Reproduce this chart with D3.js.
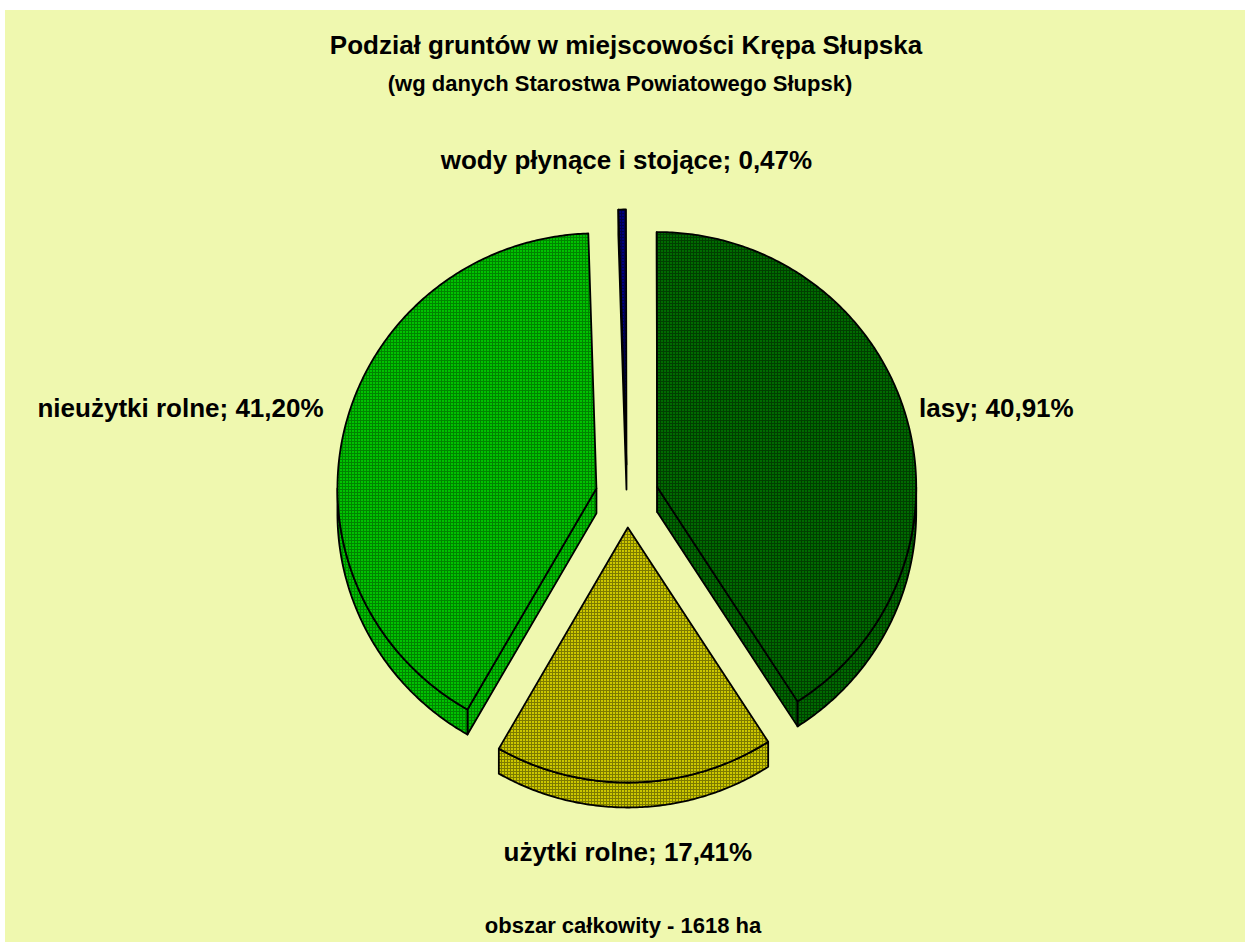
<!doctype html>
<html lang="pl">
  <head>
    <meta charset="utf-8" />
    <title>Podział gruntów - Krępa Słupska</title>
    <script src="https://d3js.org/d3.v7.min.js"></script>
    <style>
      body { margin: 0; background: #fff; }
      svg { display: block; font-family: 'Liberation Sans', Arial, sans-serif; font-weight: bold; }
    </style>
  </head>
  <body>
    <svg id="chart" width="1245" height="942"></svg>
    <script>
      // data
      const categories = ['wody płynące i stojące', 'lasy', 'użytki rolne', 'nieużytki rolne'];
      const shares = [0.47, 40.91, 17.41, 41.2];
      const titleLines = ['Podział gruntów w miejscowości Krępa Słupska', '(wg danych Starostwa Powiatowego Słupsk)'];
      const footnote = 'obszar całkowity - 1618 ha';

      // look
      const fills = [
        { bg: '#00007e', fg: '#00004c' },
        { bg: '#006b00', fg: '#003f00' },
        { bg: '#cbc700', fg: '#7c7a00' },
        { bg: '#00c300', fg: '#008400' }
      ];
      const labelNudge = [[0, 0], [0, -3], [0, 0], [-8, -15]];

      const svg = d3.select('#chart');
      const cx = 627, cy = 496, rx = 259, ry = 255, depth = 25, explode = 31.5;
      const deg = d3.scaleLinear().domain([0, 360]).range([0, 2 * Math.PI]);
      const pl = d3.formatLocale({ decimal: ',', thousands: ' ', grouping: [3], currency: ['', ' zł'] });
      const pct = pl.format('.2f');

      svg.append('rect').attr('x', 5).attr('y', 10).attr('width', 1240).attr('height', 932).attr('fill', '#eff8af');

      // pattern fills (small grid like the spreadsheet pattern)
      const defs = svg.append('defs');
      fills.forEach((f, i) => {
        const p = defs.append('pattern').attr('id', 'pat' + i).attr('patternUnits', 'userSpaceOnUse')
          .attr('width', 3).attr('height', 3);
        p.append('rect').attr('width', 3).attr('height', 3).attr('fill', f.bg);
        p.append('rect').attr('width', 3).attr('height', 1).attr('fill', f.fg);
        p.append('rect').attr('width', 1).attr('height', 3).attr('fill', f.fg);
      });

      const pie = d3.pie().sort(null).value(d => d).startAngle(deg(-1.8)).endAngle(deg(358.2));
      const arcs = pie(shares);

      const pt = (o, a, dz = 0) => [o[0] + rx * Math.sin(a), o[1] - ry * Math.cos(a) + dz];
      const arcPts = (o, a0, a1, dz = 0) => {
        const n = Math.max(2, Math.ceil(Math.abs(a1 - a0) / 0.01));
        return d3.range(n + 1).map(i => pt(o, a0 + (a1 - a0) * i / n, dz));
      };
      const line = d3.line();
      const closed = pts => line(pts) + 'Z';

      const g = svg.append('g').attr('stroke', '#000').attr('stroke-width', 1.8).attr('stroke-linejoin', 'round');

      // draw back slices first, the front one last
      const order = [0, 1, 3, 2];
      order.forEach(i => {
        const a = arcs[i];
        const mid = (a.startAngle + a.endAngle) / 2;
        const o = [cx + explode * Math.sin(mid), cy - explode * Math.cos(mid)];
        const ob = [o[0], o[1] + depth];
        const fill = `url(#pat${i})`;
        const s = a.startAngle, e = a.endAngle;

        if (Math.sin(s) < 0) {
          g.append('path').attr('fill', fill).attr('d', closed([o, pt(o, s), pt(o, s, depth), ob]));
        }
        if (Math.sin(e) > 0) {
          g.append('path').attr('fill', fill).attr('d', closed([o, pt(o, e), pt(o, e, depth), ob]));
        }
        const b0 = Math.max(s, Math.PI / 2), b1 = Math.min(e, 1.5 * Math.PI);
        if (b1 > b0) {
          const top = arcPts(o, b0, b1);
          const bottom = arcPts(o, b1, b0, depth);
          g.append('path').attr('fill', fill).attr('d', closed(top.concat(bottom)));
        }
        g.append('path').attr('fill', fill).attr('d', closed([o].concat(arcPts(o, s, e))));

        // label
        const sx = Math.sin(mid), cyd = -Math.cos(mid);
        const side = Math.abs(sx) > 0.7;
        let x, y, anchor;
        if (side) {
          x = o[0] + (rx + 14) * sx;
          y = o[1] + (ry + 14) * cyd + 9;
          anchor = sx > 0 ? 'start' : 'end';
        } else {
          x = o[0];
          anchor = 'middle';
          y = cyd < 0 ? o[1] - ry - 35 - 6 : o[1] + ry + depth + 35 + 19;
        }
        svg.append('text')
          .attr('x', x + labelNudge[i][0]).attr('y', y + labelNudge[i][1])
          .attr('text-anchor', anchor).attr('font-size', 26).attr('fill', '#000')
          .text(`${categories[i]}; ${pct(shares[i])}%`);
      });

      svg.append('text').attr('x', 626).attr('y', 54).attr('text-anchor', 'middle')
        .attr('font-size', 26).text(titleLines[0]);
      svg.append('text').attr('x', 620).attr('y', 91).attr('text-anchor', 'middle')
        .attr('font-size', 22).text(titleLines[1]);
      svg.append('text').attr('x', 623).attr('y', 933).attr('text-anchor', 'middle')
        .attr('font-size', 22).text(footnote);
    </script>
  </body>
</html>
